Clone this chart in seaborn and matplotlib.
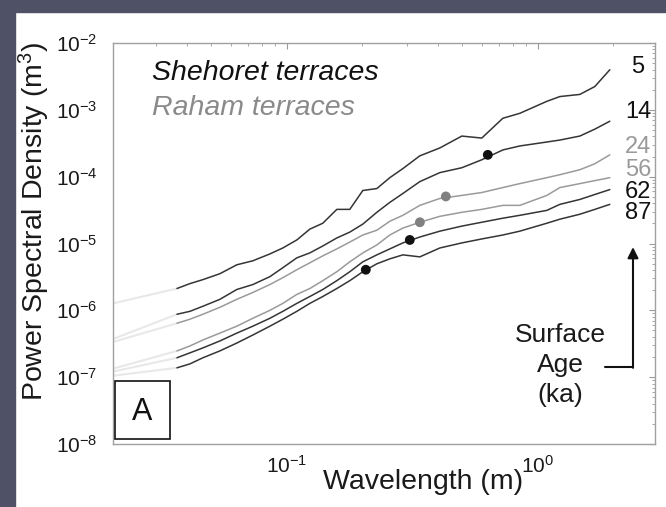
import numpy as np
import pandas as pd
import matplotlib
matplotlib.use("Agg")
import matplotlib.pyplot as plt
from matplotlib.patches import Rectangle
from matplotlib.lines import Line2D
import matplotlib.ticker as mticker
import seaborn as sns

# ---- data ----
wavelength = [0.0365, 0.0411, 0.0463, 0.0541, 0.0632, 0.0732, 0.0856, 0.0964,
              0.1096, 0.1235, 0.1391, 0.1582, 0.1782, 0.2008, 0.2284, 0.2572,
              0.2899, 0.3388, 0.4071, 0.4979, 0.5981, 0.7254, 0.8478, 1.086,
              1.224, 1.470, 1.687, 1.936]

psd_5 = [2.12e-6, 2.51e-6, 2.88e-6, 3.53e-6, 4.80e-6, 5.51e-6, 6.98e-6, 8.57e-6,
         1.13e-5, 1.64e-5, 2.01e-5, 3.24e-5, 3.24e-5, 6.21e-5, 6.64e-5, 9.66e-5,
         1.32e-4, 2.05e-4, 2.69e-4, 4.05e-4, 3.78e-4, 7.48e-4, 8.87e-4, 1.34e-3,
         1.58e-3, 1.70e-3, 2.23e-3, 3.98e-3]
psd_14 = [8.73e-7, 9.66e-7, 1.15e-6, 1.46e-6, 2.05e-6, 2.43e-6, 3.19e-6, 4.34e-6,
          6.10e-6, 7.23e-6, 9.18e-6, 1.21e-5, 1.48e-5, 1.95e-5, 2.93e-5, 4.12e-5,
          5.60e-5, 8.43e-5, 1.15e-4, 1.36e-4, 1.79e-4, 2.51e-4, 2.88e-4, 3.30e-4,
          3.53e-4, 4.05e-4, 5.14e-4, 6.76e-4]
psd_24 = [6.41e-7, 7.36e-7, 8.73e-7, 1.11e-6, 1.46e-6, 1.85e-6, 2.43e-6, 3.08e-6,
          4.05e-6, 5.14e-6, 6.53e-6, 8.30e-6, 1.05e-5, 1.34e-5, 1.58e-5, 2.15e-5,
          2.64e-5, 3.72e-5, 4.72e-5, 5.24e-5, 5.79e-5, 6.87e-5, 7.87e-5, 9.66e-5,
          1.07e-4, 1.27e-4, 1.56e-4, 2.12e-4]
psd_56 = [2.47e-7, 2.93e-7, 3.60e-7, 4.56e-7, 5.79e-7, 7.60e-7, 1.00e-6, 1.27e-6,
          1.73e-6, 2.12e-6, 2.78e-6, 3.78e-6, 5.32e-6, 7.23e-6, 9.51e-6, 1.34e-5,
          1.70e-5, 2.08e-5, 2.55e-5, 2.93e-5, 3.24e-5, 3.72e-5, 3.72e-5, 5.24e-5,
          6.87e-5, 7.87e-5, 8.73e-5, 9.66e-5]
psd_62 = [1.95e-7, 2.31e-7, 2.74e-7, 3.48e-7, 4.56e-7, 5.79e-7, 7.60e-7, 9.66e-7,
          1.27e-6, 1.61e-6, 2.05e-6, 2.78e-6, 3.78e-6, 5.32e-6, 6.76e-6, 8.30e-6,
          1.02e-5, 1.25e-5, 1.53e-5, 1.82e-5, 2.08e-5, 2.39e-5, 2.64e-5, 3.13e-5,
          3.85e-5, 4.56e-5, 5.41e-5, 6.41e-5]
psd_87 = [1.38e-7, 1.58e-7, 1.95e-7, 2.47e-7, 3.24e-7, 4.27e-7, 5.79e-7, 7.36e-7,
          9.66e-7, 1.27e-6, 1.61e-6, 2.12e-6, 2.78e-6, 3.78e-6, 4.97e-6, 5.89e-6,
          6.76e-6, 6.31e-6, 8.57e-6, 1.02e-5, 1.17e-5, 1.34e-5, 1.53e-5, 2.01e-5,
          2.31e-5, 2.74e-5, 3.24e-5, 3.85e-5]

ages = ["5", "14", "24", "56", "62", "87"]
terrace = ["Shehoret", "Shehoret", "Raham", "Raham", "Shehoret", "Shehoret"]

# faint extrapolation toward the left edge of the axis
ext_wl = 0.0203
ext_psd = [1.27e-6, 3.72e-7, 3.36e-7, 1.34e-7, 1.21e-7, 1.05e-7]

# marked points (one per curve, none on the 5 ka curve)
dot_age = ["14", "24", "56", "62", "87"]
dot_wl = [0.632, 0.430, 0.339, 0.309, 0.2064]
dot_psd = [2.12e-4, 5.06e-5, 2.08e-5, 1.13e-5, 4.05e-6]

# ---- styling ----
sns.set_theme(style="white")
plt.rcParams["font.family"] = ["Liberation Sans", "DejaVu Sans"]
plt.rcParams["mathtext.default"] = "regular"
plt.rcParams["axes.unicode_minus"] = False

dark = "#353535"
grey = "#9a9a9a"
line_colors = {"5": dark, "14": dark, "24": grey, "56": grey, "62": dark, "87": dark}
dot_colors = {"14": "#111111", "24": "#808080", "56": "#808080", "62": "#111111", "87": "#111111"}
label_colors = {"5": "#111111", "14": "#111111", "24": "#9a9a9a", "56": "#9a9a9a",
                "62": "#111111", "87": "#111111"}

series = {"5": psd_5, "14": psd_14, "24": psd_24, "56": psd_56, "62": psd_62, "87": psd_87}
df = pd.concat([pd.DataFrame({"wavelength": wavelength, "psd": v, "age": k})
                for k, v in series.items()], ignore_index=True)
ext_df = pd.concat([pd.DataFrame({"wavelength": [ext_wl, wavelength[0]],
                                  "psd": [e, series[a][0]], "age": a})
                    for a, e in zip(ages, ext_psd)], ignore_index=True)
dots_df = pd.DataFrame({"wavelength": dot_wl, "psd": dot_psd, "age": dot_age})

fig = plt.figure(figsize=(6.66, 5.07), dpi=100, facecolor="white")
ax = fig.add_axes([113 / 666, 1 - 444 / 507, 542 / 666, 401 / 507])

# slide background strips
bg = "#4f5267"
fig.patches.append(Rectangle((0, 1 - 12 / 507), 1, 12 / 507, transform=fig.transFigure,
                             color=bg, zorder=0))
fig.patches.append(Rectangle((0, 0), 15 / 666, 1, transform=fig.transFigure,
                             color=bg, zorder=0))

sns.lineplot(data=ext_df, x="wavelength", y="psd", hue="age", units="age",
             estimator=None, palette={a: "#e8e8e8" for a in ages}, linewidth=1.5,
             legend=False, ax=ax, sort=False)
sns.lineplot(data=df, x="wavelength", y="psd", hue="age", units="age",
             estimator=None, palette=line_colors, linewidth=1.1,
             legend=False, ax=ax, sort=False)
sns.scatterplot(data=dots_df, x="wavelength", y="psd", hue="age",
                palette=dot_colors, s=50, edgecolor="none", legend=False, ax=ax,
                zorder=5)

ax.set_xscale("log")
ax.set_yscale("log")
ax.set_xlim(0.0203, 2.93)
ax.set_ylim(1e-8, 1e-2)

ax.set_xticks([0.1, 1.0])
ax.set_yticks([1e-8, 1e-7, 1e-6, 1e-5, 1e-4, 1e-3, 1e-2])
ax.xaxis.set_major_formatter(mticker.LogFormatterSciNotation())
ax.yaxis.set_major_formatter(mticker.LogFormatterSciNotation())
ax.xaxis.set_minor_locator(mticker.LogLocator(base=10, subs=np.arange(2, 10), numticks=20))
ax.yaxis.set_minor_locator(mticker.LogLocator(base=10, subs=np.arange(2, 10), numticks=20))
ax.yaxis.set_minor_formatter(mticker.NullFormatter())
ax.xaxis.set_minor_formatter(mticker.NullFormatter())

ax.tick_params(which="both", direction="in", top=True, right=True, color="#9a9a9a",
               labelsize=15, labelcolor="#1a1a1a")
ax.tick_params(axis="y", which="major", pad=11)
ax.tick_params(axis="x", which="major", pad=8)
ax.tick_params(which="major", length=4, width=0.8)
ax.tick_params(which="minor", length=2, width=0.6)
for s in ax.spines.values():
    s.set_color("#a0a0a0")
    s.set_linewidth(1.0)

ax.set_ylabel("Power Spectral Density (m$^3$)", fontsize=20.5, color="#1a1a1a")
ax.yaxis.set_label_coords(-0.112, 0.554)
ax.set_xlabel("Wavelength (m)", fontsize=20.5, color="#1a1a1a")
ax.xaxis.set_label_coords(0.572, -0.062)

# legend-like titles
ax.text(0.072, 0.925, "Shehoret terraces", transform=ax.transAxes, fontsize=20.5,
        style="italic", color="#111111", va="center", ha="left")
ax.text(0.072, 0.838, "Raham terraces", transform=ax.transAxes, fontsize=20.5,
        style="italic", color="#8a8a8a", va="center", ha="left")

# age labels at the right end
label_y = {"5": 0.940, "14": 0.828, "24": 0.741, "56": 0.683, "62": 0.628, "87": 0.576}
for a in ages:
    ax.text(0.9686, label_y[a], a, transform=ax.transAxes, fontsize=17,
            color=label_colors[a], ha="center", va="center")

# surface age arrow
ax.add_line(Line2D([0.9077, 0.9594], [0.192, 0.192], transform=ax.transAxes,
                   color="#111111", lw=1.5))
ax.annotate("", xy=(0.9594, 0.491), xytext=(0.9594, 0.19), xycoords="axes fraction",
            arrowprops=dict(arrowstyle="-|>", color="#111111", lw=1.5,
                            mutation_scale=16, shrinkA=0, shrinkB=0))
ax.text(0.8247, 0.197, "Surface\nAge\n(ka)", transform=ax.transAxes, fontsize=19,
        color="#1a1a1a", ha="center", va="center", linespacing=1.3)

# panel label
ax.add_patch(Rectangle((0.004, 0.012), 0.101, 0.145, transform=ax.transAxes,
                       fill=True, facecolor="white", edgecolor="#111111", lw=1.2,
                       zorder=6))
ax.text(0.0535, 0.080, "A", transform=ax.transAxes, fontsize=22, color="#111111",
        ha="center", va="center", zorder=7)

fig.savefig("out.png", dpi=100, facecolor="white")
